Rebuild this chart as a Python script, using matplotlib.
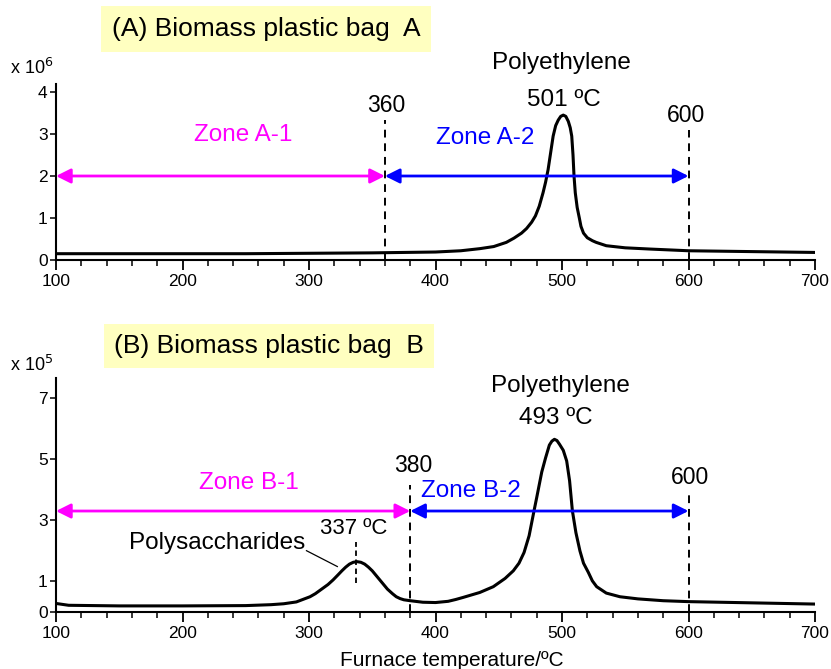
import matplotlib
matplotlib.use("Agg")
import matplotlib.pyplot as plt
from matplotlib.ticker import MultipleLocator

plt.rcParams['font.family'] = ['Liberation Sans', 'DejaVu Sans']

# Panel A data (x 10^6)
temp_a = [100, 150, 200, 250, 300, 350, 400, 420, 435, 446, 456, 462, 468, 472, 476, 479,
          482, 485, 487, 489, 491, 493, 495, 497, 499, 501, 503, 505, 506.5, 507.7, 508.7,
          509.5, 510.5, 512, 513.7, 515, 517, 520, 524, 527, 535, 550, 570, 600, 650, 700]
sig_a = [0.15, 0.15, 0.15, 0.15, 0.16, 0.17, 0.19, 0.22, 0.27, 0.32, 0.42, 0.52, 0.64, 0.75,
         0.9, 1.05, 1.28, 1.6, 1.85, 2.15, 2.55, 2.95, 3.2, 3.33, 3.42, 3.45, 3.42, 3.3,
         3.15, 2.95, 2.5, 2.0, 1.6, 1.25, 1.0, 0.8, 0.64, 0.53, 0.46, 0.42, 0.34, 0.29, 0.26,
         0.22, 0.2, 0.18]

# Panel B data (x 10^5)
temp_b = [100, 110, 150, 200, 250, 270, 280, 290, 300.8, 305, 310, 315, 319, 323, 326, 329,
          332, 335, 338, 341, 344, 347, 350, 353, 356, 359, 362, 366, 369, 372, 375, 380,
          390, 400, 410, 416, 422, 435, 445.7, 455, 461.5, 466, 470, 474, 477.9, 480, 484,
          487, 490, 492, 494, 496, 498, 501, 503.7, 506, 508.2, 511, 514.2, 517, 520.8, 524,
          527.4, 535, 545.8, 560, 580, 600, 650, 700]
sig_b = [0.28, 0.22, 0.2, 0.2, 0.21, 0.24, 0.27, 0.33, 0.5, 0.6, 0.75, 0.9, 1.05, 1.22, 1.35,
         1.47, 1.57, 1.63, 1.65, 1.63, 1.57, 1.47, 1.35, 1.2, 1.05, 0.9, 0.75, 0.6, 0.5, 0.44,
         0.4, 0.37, 0.32, 0.31, 0.35, 0.41, 0.48, 0.64, 0.83, 1.1, 1.35, 1.6, 1.95, 2.5, 3.32,
         3.75, 4.59, 5.05, 5.47, 5.6, 5.66, 5.62, 5.5, 5.3, 4.95, 4.3, 3.32, 2.6, 2.0, 1.6,
         1.3, 1.02, 0.83, 0.62, 0.5, 0.43, 0.37, 0.34, 0.3, 0.26]

xticks = [100, 200, 300, 400, 500, 600, 700]
yticks_a = [0, 1, 2, 3, 4]
yticks_b = [0, 1, 3, 5, 7]

W, H = 831, 669
fig = plt.figure(figsize=(W / 100, H / 100), dpi=100)

def px_axes(left, top, right, bottom):
    return fig.add_axes([left / W, 1 - bottom / H, (right - left) / W, (bottom - top) / H])

ax1 = px_axes(56, 83.6, 815, 260)
ax2 = px_axes(56, 378, 815, 612)

MAG = '#FF00FF'
BLU = '#0000FF'
FS = 17.5

def ftext(x, y, s, **kw):
    kw.setdefault('fontsize', FS)
    fig.text(x / W, 1 - y / H, s, ha='center', va='center', **kw)

def style(ax, ylim, yticks):
    ax.set_xlim(100, 700)
    ax.set_ylim(*ylim)
    ax.set_xticks(xticks)
    ax.xaxis.set_minor_locator(MultipleLocator(20))
    ax.set_yticks(yticks)
    for s in ['top', 'right']:
        ax.spines[s].set_visible(False)
    for s in ['left', 'bottom']:
        ax.spines[s].set_linewidth(1.5)
    ax.tick_params(axis='x', which='major', length=7, width=1.3, labelsize=12.5, pad=3)
    ax.tick_params(axis='x', which='minor', length=4, width=1.1)
    ax.tick_params(axis='y', which='major', length=4, width=1.1, labelsize=12.5, pad=2)
    ax.patch.set_alpha(0)

def arrow(ax, x0, x1, y, color):
    ax.annotate('', xy=(x1, y), xytext=(x0, y),
                arrowprops=dict(arrowstyle='<|-|>', color=color, lw=2,
                                mutation_scale=22, shrinkA=0, shrinkB=0))

# ---- Panel A ----
style(ax1, (0, 4.2), yticks_a)
ax1.plot(temp_a, sig_a, color='black', lw=2.2, solid_joinstyle='round')
ax1.plot([360, 360], [0, 3.33], color='black', lw=1.4, ls=(0, (4, 3)))
ax1.plot([600, 600], [0, 3.1], color='black', lw=1.4, ls=(0, (4, 3)))
arrow(ax1, 100, 360, 2.0, MAG)
arrow(ax1, 360, 600, 2.0, BLU)
ftext(243, 135, 'Zone A-1', color=MAG)
ftext(485, 138, 'Zone A-2', color=BLU)
ftext(386, 106, '360', fontsize=16.5)
ftext(686, 115, '600', fontsize=16.5)
ftext(561, 63, 'Polyethylene')
ftext(564, 100, '501 ºC')
fig.text(10 / W, 1 - 68 / H, r'x 10$^{6}$', fontsize=13, ha='left', va='center')
ftext(266, 29, '(A) Biomass plastic bag  A', fontsize=19,
      bbox=dict(boxstyle='square,pad=0.4', fc='#FFFFC0', ec='none'))

# ---- Panel B ----
style(ax2, (0, 7.67), yticks_b)
ax2.plot(temp_b, sig_b, color='black', lw=2.2, solid_joinstyle='round')
ax2.plot([380, 380], [0, 4.16], color='black', lw=1.4, ls=(0, (4, 3)))
ax2.plot([600, 600], [0, 3.93], color='black', lw=1.4, ls=(0, (4, 3)))
ax2.plot([337, 337], [0.94, 2.3], color='black', lw=1.3, ls=(0, (3, 2)))
arrow(ax2, 100, 380, 3.31, MAG)
arrow(ax2, 380, 600, 3.31, BLU)
ax2.plot([298, 322.4], [2.01, 1.49], color='black', lw=0.9)
ftext(413, 465, '380', fontsize=16.5)
ftext(690, 478, '600', fontsize=16.5)
ftext(249, 483, 'Zone B-1', color=MAG)
ftext(471, 491, 'Zone B-2', color=BLU)
ftext(560, 386, 'Polyethylene')
ftext(556, 418, '493 ºC')
ftext(354, 528, '337 ºC', fontsize=16)
ftext(217, 543, 'Polysaccharides')
fig.text(10 / W, 1 - 365 / H, r'x 10$^{5}$', fontsize=13, ha='left', va='center')
ftext(269, 346, '(B) Biomass plastic bag  B', fontsize=19,
      bbox=dict(boxstyle='square,pad=0.38', fc='#FFFFC0', ec='none'))
ftext(452, 661, 'Furnace temperature/ºC', fontsize=15)

fig.savefig('out.png', dpi=100)
